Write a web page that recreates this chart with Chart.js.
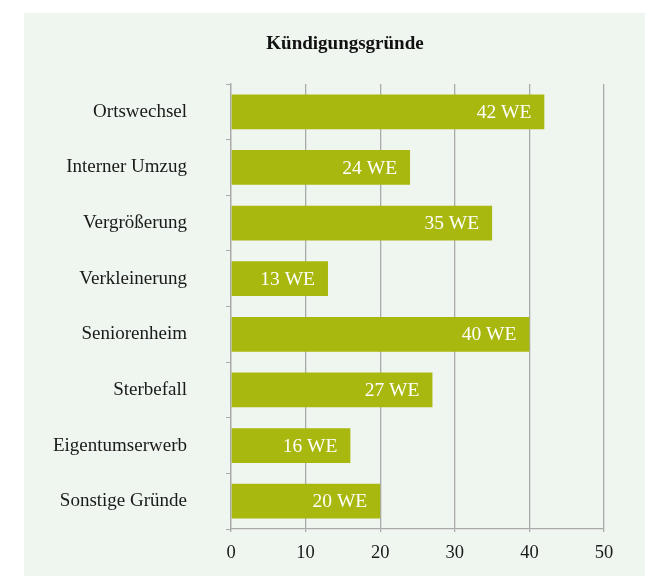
<!DOCTYPE html>
<html><head><meta charset="utf-8">
<script src="https://cdn.jsdelivr.net/npm/chart.js@4.4.1/dist/chart.umd.min.js"></script>
<style>html,body{margin:0;padding:0;background:#fff}#wrap{width:665px;height:576px;position:relative}</style>
</head><body><div id="wrap"><canvas id="c" width="665" height="576"></canvas></div>
<script>
const categories = ["Ortswechsel","Interner Umzug","Vergrößerung","Verkleinerung","Seniorenheim","Sterbefall","Eigentumserwerb","Sonstige Gründe"];
const values = [42,24,35,13,40,27,16,20];
const unit = "WE";
const title = "Kündigungsgründe";
const xTicks = [0,10,20,30,40,50];

const FONT = "'Liberation Serif', 'DejaVu Serif', serif";
const panelBg = {
  id:'panelBg',
  beforeDraw(chart){
    const ctx = chart.ctx; ctx.save();
    ctx.fillStyle = '#eff5ef';
    ctx.fillRect(24,13,621,563);
    ctx.restore();
  },
  afterDraw(chart){
    const ctx = chart.ctx; ctx.save();
    ctx.fillStyle = '#111';
    ctx.font = "bold 19px " + FONT;
    ctx.textAlign = 'center'; ctx.textBaseline = 'middle';
    ctx.fillText(title, 345, 44);
    ctx.restore();
  }
};
const labelsPlugin = {
  id:'barLabels',
  afterDatasetsDraw(chart){
    const ctx = chart.ctx; ctx.save();
    ctx.fillStyle = '#ffffff';
    ctx.font = "19.5px " + FONT;
    ctx.textAlign = 'right'; ctx.textBaseline = 'middle';
    const meta = chart.getDatasetMeta(0);
    meta.data.forEach((bar,i)=>{
      ctx.fillText(values[i] + " " + unit, bar.x - 13, bar.y + 1);
    });
    ctx.restore();
  }
};
new Chart(document.getElementById('c'), {
  type:'bar',
  data:{labels:categories, datasets:[{data:values, backgroundColor:'#a8b80e', borderWidth:0, barPercentage:0.7, categoryPercentage:0.89}]},
  options:{
    indexAxis:'y', responsive:false, animation:false, devicePixelRatio:1,
    layout:{padding:{left:0,right:61,top:84,bottom:0}},
    plugins:{ legend:{display:false}, tooltip:{enabled:false}, title:{display:false} },
    scales:{
      x:{min:0,max:50, afterFit(s){s.height=47;},
         afterBuildTicks(s){s.ticks = xTicks.map(v=>({value:v}));},
         grid:{color:'#aaaaaa', lineWidth:1.3, tickLength:3, drawTicks:true},
         border:{color:'#aaaaaa', width:1.3},
         ticks:{color:'#1a1a1a', font:{family:FONT,size:18.5}, padding:10}},
      y:{afterFit(s){s.width=231; s.paddingTop=0; s.paddingBottom=0;},
         grid:{offset:true, drawOnChartArea:false, drawTicks:true, tickLength:5, color:'#aaaaaa'},
         border:{color:'#aaaaaa', width:1.3},
         ticks:{color:'#1a1a1a', font:{family:FONT,size:19}, padding:39}}
    }
  },
  plugins:[panelBg, labelsPlugin]
});
</script></body></html>
